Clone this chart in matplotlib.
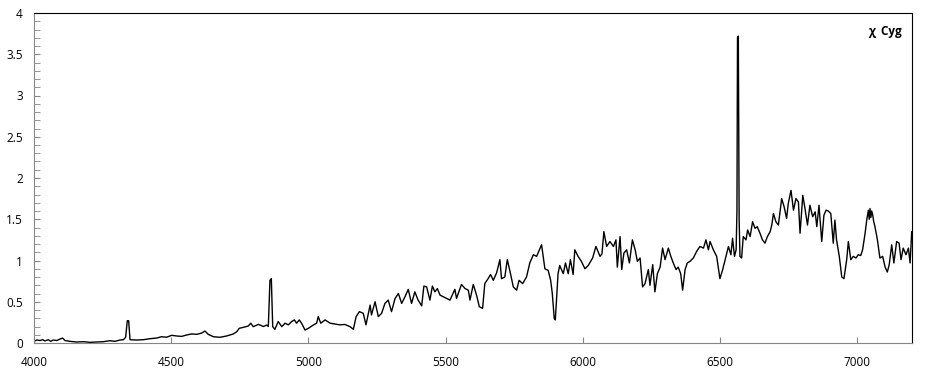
import matplotlib
matplotlib.use("Agg")
import matplotlib.pyplot as plt
from matplotlib.ticker import MultipleLocator

# spectrum of chi Cyg
wavelength = [
    4000, 4010, 4022, 4032, 4040, 4052, 4061, 4070, 4083, 4095, 4104, 4113, 4131, 4155,
    4180, 4204, 4228, 4253, 4277, 4295, 4313, 4326, 4334, 4340, 4345, 4350, 4374, 4398,
    4423, 4447, 4465, 4483, 4502, 4520, 4538, 4556, 4575, 4593, 4611, 4623, 4635, 4654,
    4678, 4702, 4726, 4739, 4748, 4763, 4781, 4790, 4799, 4818, 4836, 4848, 4854, 4860,
    4865, 4870, 4878, 4890, 4903, 4915, 4927, 4939, 4949, 4957, 4967, 4975, 4988, 5000,
    5018, 5030, 5036, 5045, 5061, 5079, 5097, 5115, 5133, 5152, 5164, 5174, 5186, 5200,
    5210, 5225, 5230, 5243, 5255, 5267, 5279, 5291, 5303, 5316, 5328, 5340, 5352, 5364,
    5376, 5388, 5400, 5413, 5421, 5431, 5443, 5452, 5461, 5470, 5480, 5498, 5516, 5534,
    5540, 5558, 5571, 5583, 5589, 5601, 5613, 5623, 5635, 5643, 5655, 5664, 5674, 5686,
    5698, 5704, 5716, 5725, 5734, 5747, 5759, 5768, 5781, 5795, 5807, 5820, 5832, 5842,
    5850, 5862, 5874, 5883, 5889, 5896, 5900, 5905, 5910, 5916, 5929, 5937, 5947, 5955,
    5965, 5971, 5983, 5995, 6008, 6020, 6036, 6048, 6063, 6070, 6077, 6087, 6099, 6112,
    6121, 6126, 6136, 6142, 6150, 6160, 6170, 6181, 6191, 6199, 6209, 6218, 6227, 6239,
    6245, 6255, 6263, 6272, 6282, 6291, 6300, 6312, 6321, 6330, 6340, 6348, 6357, 6364,
    6373, 6381, 6391, 6403, 6415, 6427, 6440, 6449, 6458, 6464, 6476, 6488, 6500, 6510,
    6522, 6531, 6540, 6546, 6553, 6559, 6562, 6564, 6567, 6570, 6573, 6579, 6585, 6595,
    6601, 6610, 6619, 6628, 6636, 6646, 6655, 6664, 6673, 6683, 6689, 6695, 6704, 6713,
    6725, 6734, 6743, 6749, 6759, 6768, 6777, 6786, 6792, 6802, 6810, 6819, 6828, 6838,
    6847, 6853, 6861, 6871, 6879, 6887, 6895, 6904, 6913, 6919, 6925, 6935, 6944, 6952,
    6962, 6968, 6977, 6986, 6996, 7004, 7013, 7020, 7029, 7035, 7041, 7044, 7047, 7050,
    7053, 7057, 7060, 7065, 7074, 7083, 7093, 7102, 7110, 7117, 7126, 7134, 7144, 7153,
    7160, 7168, 7178, 7187, 7193, 7199,
]
flux = [
    0.02, 0.036, 0.03, 0.04, 0.025, 0.04, 0.02, 0.036, 0.03, 0.048, 0.06, 0.03, 0.02, 0.012,
    0.016, 0.008, 0.012, 0.016, 0.028, 0.02, 0.036, 0.04, 0.07, 0.27, 0.27, 0.04, 0.036, 0.04,
    0.052, 0.06, 0.076, 0.07, 0.093, 0.085, 0.08, 0.097, 0.11, 0.105, 0.12, 0.145, 0.105, 0.076,
    0.069, 0.085, 0.109, 0.137, 0.178, 0.19, 0.206, 0.24, 0.198, 0.226, 0.2, 0.218, 0.2, 0.76,
    0.78, 0.198, 0.166, 0.26, 0.198, 0.24, 0.22, 0.26, 0.28, 0.24, 0.28, 0.24, 0.157, 0.178,
    0.218, 0.24, 0.32, 0.24, 0.28, 0.24, 0.23, 0.22, 0.225, 0.198, 0.166, 0.32, 0.38, 0.36,
    0.22, 0.46, 0.34, 0.5, 0.32, 0.36, 0.48, 0.52, 0.38, 0.54, 0.6, 0.48, 0.56, 0.65,
    0.48, 0.62, 0.52, 0.45, 0.69, 0.68, 0.52, 0.69, 0.62, 0.66, 0.58, 0.55, 0.52, 0.65,
    0.54, 0.71, 0.66, 0.64, 0.52, 0.71, 0.58, 0.44, 0.42, 0.72, 0.78, 0.83, 0.76, 0.85,
    1.01, 0.78, 0.80, 1.01, 0.88, 0.68, 0.64, 0.76, 0.72, 0.80, 0.97, 1.07, 1.05, 1.13,
    1.19, 0.90, 0.88, 0.76, 0.6, 0.3, 0.28, 0.55, 0.84, 0.94, 0.84, 0.97, 0.84, 1.01,
    0.83, 1.13, 1.05, 0.99, 0.90, 0.94, 1.03, 1.17, 1.05, 1.08, 1.35, 1.17, 1.23, 1.17,
    1.25, 0.92, 1.29, 0.89, 1.09, 1.13, 0.97, 1.25, 1.13, 0.99, 1.03, 0.68, 0.72, 0.89,
    0.70, 0.95, 0.62, 0.84, 0.92, 1.15, 1.01, 1.15, 1.05, 0.97, 0.89, 0.92, 0.84, 0.64,
    0.89, 0.97, 0.99, 1.03, 1.11, 1.17, 1.15, 1.25, 1.13, 1.23, 1.13, 1.05, 0.78, 0.89,
    1.05, 1.17, 1.07, 1.27, 1.05, 1.13, 1.6, 3.70, 3.72, 1.5, 1.05, 1.03, 1.29, 1.25,
    1.37, 1.29, 1.47, 1.39, 1.41, 1.33, 1.25, 1.21, 1.29, 1.35, 1.43, 1.57, 1.47, 1.43,
    1.75, 1.65, 1.51, 1.69, 1.85, 1.61, 1.75, 1.71, 1.33, 1.79, 1.63, 1.43, 1.67, 1.53,
    1.59, 1.41, 1.67, 1.23, 1.55, 1.61, 1.60, 1.57, 1.21, 1.49, 1.25, 1.05, 0.80, 0.78,
    1.01, 1.23, 1.01, 1.05, 1.03, 1.07, 1.06, 1.13, 1.33, 1.49, 1.61, 1.5, 1.63, 1.52,
    1.6, 1.55, 1.48, 1.41, 1.25, 1.03, 1.05, 0.92, 0.86, 0.95, 1.19, 0.97, 1.23, 1.21,
    1.01, 1.15, 1.07, 1.15, 0.97, 1.35,
]
star_label = "χ  Cyg"

plt.rcParams['font.family'] = ['Open Sans', 'DejaVu Sans']

fig = plt.figure(figsize=(9.39, 3.76), dpi=100)
ax = fig.add_axes([34/939, 33/376, 878/939, 330/376])

ax.plot(wavelength, flux, color='black', lw=1.0)

ax.set_xlim(4000, 7200)
ax.set_ylim(0, 4)
ax.xaxis.set_major_locator(MultipleLocator(500))
ax.yaxis.set_major_locator(MultipleLocator(0.5))
ax.yaxis.set_minor_locator(MultipleLocator(0.1))
ax.yaxis.set_major_formatter(plt.FuncFormatter(lambda v, p: f"{v:g}"))

ax.tick_params(axis='both', which='both', direction='in', color='#868686', labelsize=8.5)
ax.tick_params(axis='y', which='both', length=4, pad=8)
ax.tick_params(axis='x', which='major', length=4, pad=9)

ax.spines['left'].set_color('#868686')
ax.spines['bottom'].set_color('#868686')
ax.spines['top'].set_color('black')
ax.spines['right'].set_color('black')

ax.text(0.989, 0.965, star_label, transform=ax.transAxes, ha='right', va='top',
        fontsize=8.5, fontweight='bold')

fig.savefig('out.png', dpi=100)
